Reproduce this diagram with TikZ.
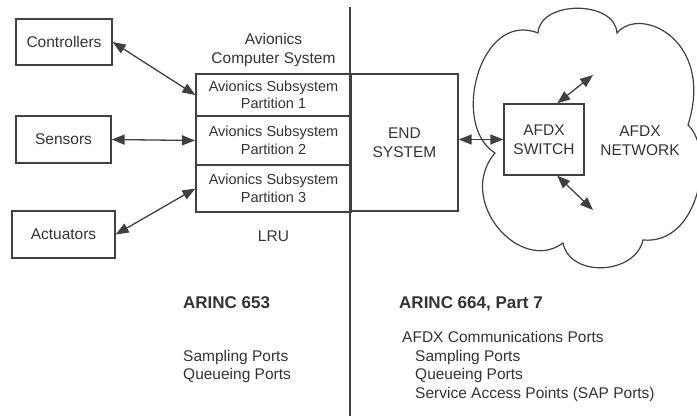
\documentclass[tikz,border=0pt]{standalone}
\usepackage{fontspec}
\setmainfont{Liberation Sans}
\usepackage{tikz}
\usetikzlibrary{
    arrows.meta,
    positioning
}
\definecolor{inkgray}{HTML}{404040}
\definecolor{textgray}{HTML}{333333}

\begin{document}
\begin{tikzpicture}[
        x=1pt, y=-1pt,
        box/.style={
            rectangle,
            draw=inkgray,
            line width=1.3pt,
            text=textgray,
            align=center,
            inner sep=0pt,
            font=\fontsize{15.5}{18.5}\selectfont
        },
        partbox/.style={
            box,
            minimum width=155pt,
            font=\fontsize{14.5}{17.5}\selectfont
        },
        plain/.style={
            text=textgray,
            align=center,
            font=\fontsize{15.5}{19}\selectfont
        },
        heading/.style={
            anchor=base west,
            text=textgray,
            inner sep=0pt,
            font=\fontsize{17}{20}\selectfont\bfseries
        },
        portline/.style={
            anchor=base west,
            text=textgray,
            inner sep=0pt,
            font=\fontsize{15.5}{18.5}\selectfont
        },
        link/.style={
            {Triangle[length=13pt,width=10pt]}-{Triangle[length=13pt,width=10pt]},
            draw=inkgray,
            fill=none,
            line width=1.3pt
        }
    ]
        \useasboundingbox (0,0) rectangle (697,416);

        % external units
        \node[box, minimum width=96pt, minimum height=46pt] (ctrl) at (64,42) {Controllers};
        \node[box, minimum width=95pt, minimum height=47pt] (sens) at (63.5,139.5) {Sensors};
        \node[box, minimum width=103pt, minimum height=47pt] (act) at (63.5,234.5) {Actuators};

        % LRU with partitions and end system
        \node[plain] (acs) at (273.5,50) {Avionics\\Computer System};
        \node[box, minimum width=107pt, minimum height=137pt] (es) at (404.5,142.5) {END\\SYSTEM};
        \node[partbox, minimum height=42pt] (part1) at (273.5,95) {Avionics Subsystem\\Partition 1};
        \node[partbox, minimum height=49pt, line width=2pt] (part2) at (273.5,140.5) {Avionics Subsystem\\Partition 2};
        \node[partbox, minimum height=47pt] (part3) at (273.5,188.5) {Avionics Subsystem\\Partition 3};
        \node[plain] (lru) at (273.5,236) {LRU};

        % divider between the two standards
        \draw[draw=inkgray, line width=1.3pt] (350,7) -- (350,416);

        % AFDX network cloud
        \draw[draw=inkgray, line width=1.2pt]
            (495,153) .. controls (450,125) and (480,10) .. (538,33)
            .. controls (540,0) and (615,0) .. (617,33)
            .. controls (640,5) and (715,40) .. (688,125)
            .. controls (715,150) and (700,245) .. (643,240)
            .. controls (635,275) and (570,278) .. (563,243)
            .. controls (520,275) and (455,200) .. (495,153) -- cycle;
        \node[box, minimum width=80pt, minimum height=71pt] (sw) at (544,139.5) {AFDX\\SWITCH};
        \node[plain] (net) at (640,141) {AFDX\\NETWORK};
        \coordinate (up) at (593,75);
        \coordinate (down) at (593,210);

        % connections
        \draw[link] (ctrl.east) -- (part1.west);
        \draw[link] (sens.east) -- (part2.west);
        \draw[link] (act.east) -- (part3.west);
        \draw[link] (es.east |- sw.west) -- (sw.west);
        \draw[link] (sw.70) -- (up);
        \draw[link] (sw.-70) -- (down);

        % port lists
        \node[heading] (a653) at (183,308) {ARINC 653};
        \node[portline] (lsamp) at (183,361.5) {Sampling Ports};
        \node[portline] (lqueue) at (183,379.5) {Queueing Ports};

        \node[heading] (a664) at (399,308) {ARINC 664, Part 7};
        \node[portline] (comm) at (402,342.5) {AFDX Communications Ports};
        \node[portline] (rsamp) at (415,361.5) {Sampling Ports};
        \node[portline] (rqueue) at (415,379.5) {Queueing Ports};
        \node[portline] (sap) at (415,398.5) {Service Access Points (SAP Ports)};
    \end{tikzpicture}
\end{document}
